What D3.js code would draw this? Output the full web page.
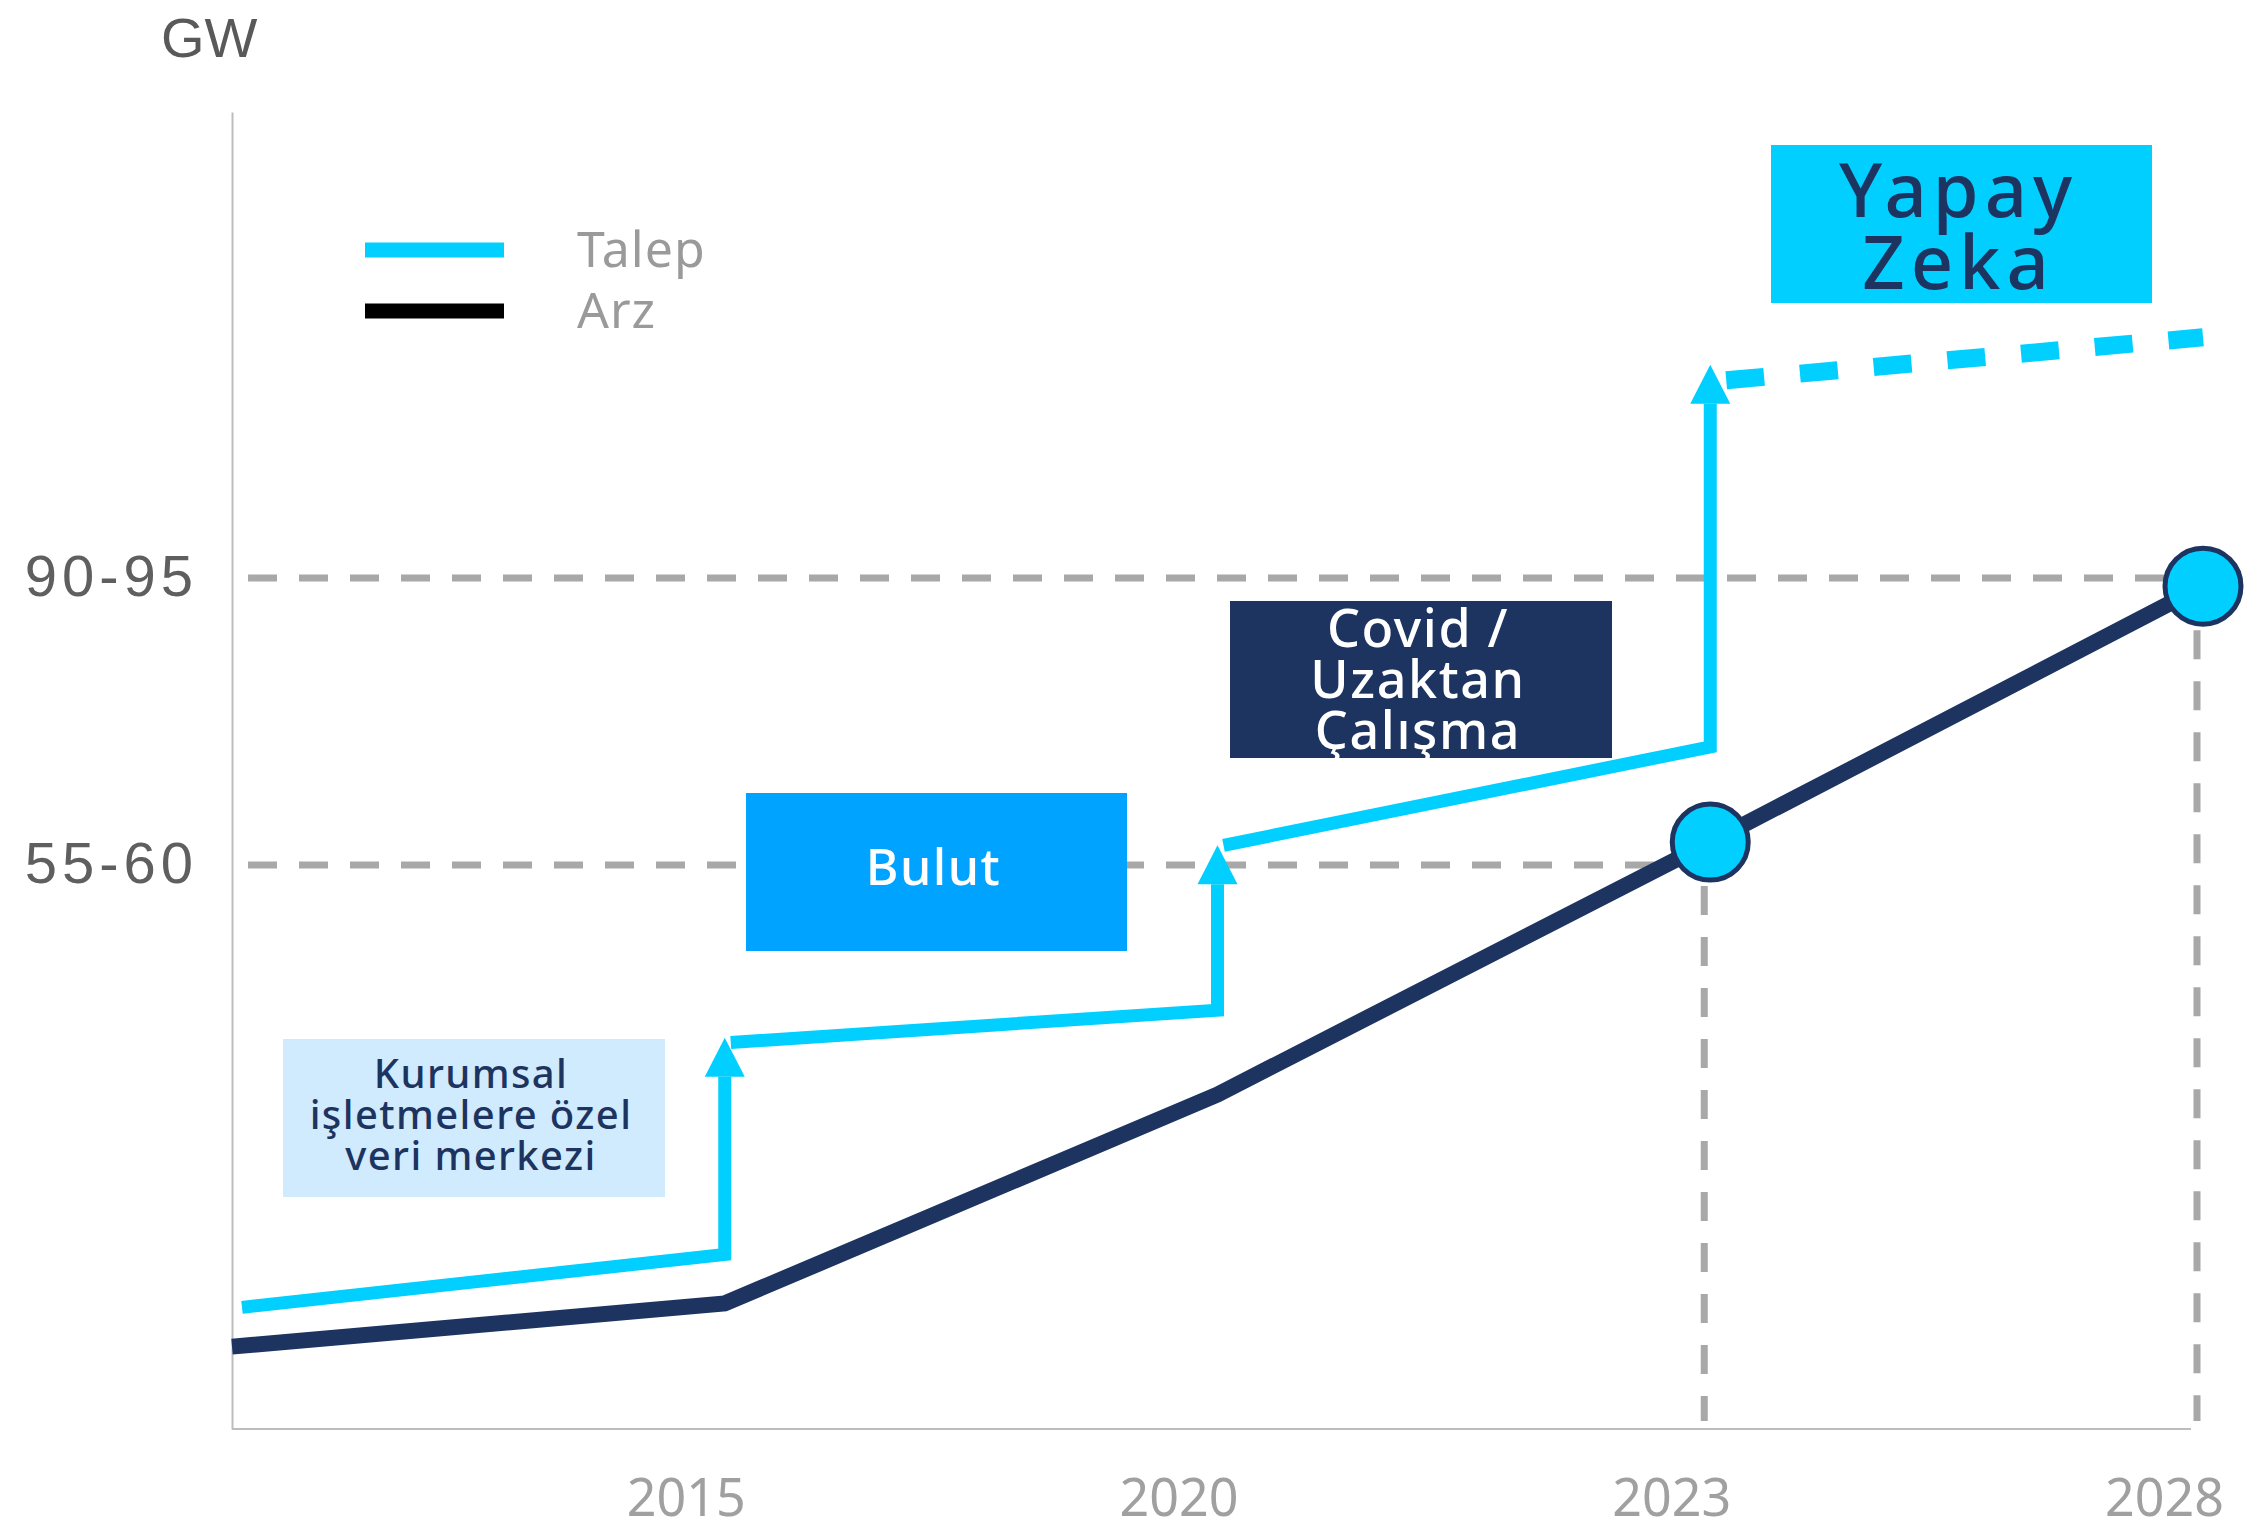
<!DOCTYPE html>
<html lang="tr">
<head>
<meta charset="utf-8">
<title>Veri merkezi talep ve arz</title>
<script src="https://cdn.jsdelivr.net/npm/d3@7"></script>
<style>
  html, body { margin: 0; padding: 0; background: #ffffff; }
  svg { display: block; }
</style>
</head>
<body>
<script>
// ---- data -------------------------------------------------------------
// x categories (the first one is the unlabeled starting point)
const periods = ["2010", "2015", "2020", "2023", "2028"];
const xTickLabels = ["2015", "2020", "2023", "2028"];

// y reference values (GW) and their labels
const yTickValues = [57.5, 92.5];
const yTickLabels = ["55-60", "90-95"];
const yTickPeriods = ["2023", "2028"];   // period each reference line runs to

// Arz (supply), GW per period
const arzValues = [8.4, 12.8, 34.1, 60.3, 91.5];

// Talep (demand): value at the start and at the end of each period span
const talepStart = [12.4, 39.4, 59.9, 116.9];
const talepEnd   = [17.8, 42.7, 71.9, 122.2];
const talepForecast = [false, false, false, true];
// level reached by the step-up arrow at 2015, 2020 and 2023
const stepTop = [39.9, 59.9, 118.8];

// demand drivers
const driverLabels = [
  ["Kurumsal", "işletmelere özel", "veri merkezi"],
  ["Bulut"],
  ["Covid /", "Uzaktan", "Çalışma"],
  ["Yapay", "Zeka"]
];

const legendLabels = ["Talep", "Arz"];

// ---- layout & style ---------------------------------------------------
const W = 2244, H = 1530;
const X0 = 232, X1 = 2203, YBASE = 1429, YTOP = 112;

const C = {
  talep: "#00CFFF",
  arz: "#1D3461",
  grid: "#A8A8A8",
  axis: "#BDBDBD",
  tick: "#5F5F5F",
  year: "#A0A0A0",
  legendText: "#9A9A9A"
};

const driverBoxes = [
  { x: 283,  y: 1039, w: 382, h: 158, fill: "#D0EBFD", color: "#1D3461", size: 40, lh: 41, first: 49, ls: 1.4 },
  { x: 746,  y: 793,  w: 381, h: 158, fill: "#00A3FF", color: "#FFFFFF", size: 50, lh: 50, first: 92, ls: 1.5 },
  { x: 1230, y: 601,  w: 382, h: 157, fill: "#1D3461", color: "#FFFFFF", size: 52, lh: 51, first: 46, ls: 1.6 },
  { x: 1771, y: 145,  w: 381, h: 158, fill: "#00CFFF", color: "#1D3461", size: 74, lh: 72, first: 72, ls: 6 }
];

const svg = d3.select("body").append("svg")
  .attr("width", W).attr("height", H)
  .attr("viewBox", `0 0 ${W} ${H}`);

// ---- scales -------------------------------------------------------------
const x = d3.scalePoint().domain(periods).range([X0, X1]).padding(0);
const y = d3.scaleLinear()
  .domain([0, yTickValues[0], yTickValues[1], 150])
  .range([YBASE, 865, 578, YTOP]);

const DOT_R = 38;

// ---- reference lines -----------------------------------------------------
const grid = svg.append("g")
  .attr("stroke", C.grid)
  .attr("stroke-width", 7)
  .attr("stroke-dasharray", "29 22")
  .attr("fill", "none");

yTickValues.forEach((v, i) => {
  const px = x(yTickPeriods[i]);
  grid.append("line")
    .attr("x1", 248).attr("x2", px - DOT_R)
    .attr("y1", y(v)).attr("y2", y(v));
});

yTickPeriods.forEach(p => {
  const i = periods.indexOf(p);
  grid.append("line")
    .attr("x1", x(p) - 6).attr("x2", x(p) - 6)
    .attr("y1", y(arzValues[i]) + DOT_R + 6).attr("y2", YBASE - 8);
});

// ---- axes ----------------------------------------------------------------
const yAxis = svg.append("g")
  .attr("transform", `translate(${X0},0)`)
  .call(d3.axisLeft(y)
    .tickValues(yTickValues)
    .tickFormat((d, i) => yTickLabels[i])
    .tickSize(0)
    .tickPadding(34));
yAxis.select(".domain").attr("stroke", C.axis).attr("stroke-width", 2);
yAxis.selectAll("text")
  .attr("fill", C.tick)
  .attr("dy", "0.3em")
  .style("font-family", "'Liberation Sans', Arial, sans-serif")
  .style("font-size", "58px")
  .style("letter-spacing", "5px");

const xAxis = svg.append("g")
  .attr("transform", `translate(0,${YBASE})`)
  .call(d3.axisBottom(x)
    .tickValues(xTickLabels)
    .tickSize(0)
    .tickPadding(50));
xAxis.select(".domain")
  .attr("stroke", C.axis).attr("stroke-width", 2)
  .attr("d", `M${X0},0H${X1 - 12}`);
xAxis.selectAll("text")
  .attr("fill", C.year)
  .attr("dx", -39)
  .style("font-family", "'Noto Sans', sans-serif")
  .style("font-size", "52px");

// unit label
svg.append("text")
  .attr("x", 161).attr("y", 57)
  .attr("fill", "#595959")
  .style("font-family", "'Liberation Sans', Arial, sans-serif")
  .style("font-size", "56px")
  .text("GW");

// ---- driver boxes ------------------------------------------------------------
const boxes = svg.append("g");
driverLabels.forEach((lines, i) => {
  const b = driverBoxes[i];
  boxes.append("rect")
    .attr("x", b.x).attr("y", b.y)
    .attr("width", b.w).attr("height", b.h)
    .attr("fill", b.fill);
  const t = boxes.append("text")
    .attr("text-anchor", "middle")
    .attr("fill", b.color)
    .style("font-family", "'Noto Sans', sans-serif")
    .style("font-weight", 500)
    .style("font-size", b.size + "px")
    .style("letter-spacing", b.ls + "px");
  lines.forEach((ln, j) => {
    t.append("tspan")
      .attr("x", b.x + b.w / 2 - 3)
      .attr("y", b.y + b.first + j * b.lh)
      .text(ln);
  });
});

// ---- supply line -------------------------------------------------------------
const line = d3.line().x(d => d[0]).y(d => d[1]);

svg.append("path")
  .attr("d", line(periods.map((p, i) => [x(p), y(arzValues[i])])))
  .attr("fill", "none")
  .attr("stroke", C.arz)
  .attr("stroke-width", 16)
  .attr("stroke-linejoin", "miter");

// ---- demand line with step-up arrows -----------------------------------------
const ARROW_H = 39, ARROW_W = 20;
const dem = svg.append("g").attr("fill", "none").attr("stroke", C.talep);

talepStart.forEach((s, i) => {
  const xa = x(periods[i]);
  const xb = x(periods[i + 1]);
  const startX = i === 0 ? xa + 10 : xa + (talepForecast[i] ? 16 : 6);
  const pts = [[startX, y(s)], [xb, y(talepEnd[i])]];
  if (i < stepTop.length) {
    // climb to the next period's level
    pts.push([xb, y(stepTop[i]) + ARROW_H]);
  }
  const seg = dem.append("path")
    .attr("d", line(pts))
    .attr("stroke-linejoin", "miter")
    .attr("stroke-width", talepForecast[i] ? 18 : 13);
  if (talepForecast[i]) seg.attr("stroke-dasharray", "38 36");

  if (i < stepTop.length) {
    const tipY = y(stepTop[i]);
    svg.append("path")
      .attr("d", `M${xb},${tipY}L${xb + ARROW_W},${tipY + ARROW_H}L${xb - ARROW_W},${tipY + ARROW_H}Z`)
      .attr("fill", C.talep);
  }
});

// ---- milestone dots --------------------------------------------------------------
svg.append("g")
  .selectAll("circle")
  .data(yTickPeriods)
  .join("circle")
  .attr("cx", p => x(p))
  .attr("cy", p => y(arzValues[periods.indexOf(p)]))
  .attr("r", DOT_R)
  .attr("fill", C.talep)
  .attr("stroke", C.arz)
  .attr("stroke-width", 5);

// ---- legend --------------------------------------------------------------------
const legend = svg.append("g");
const legendColors = [C.talep, "#000000"];
legendLabels.forEach((lab, i) => {
  const ly = 250 + i * 61;
  legend.append("line")
    .attr("x1", 365).attr("x2", 504)
    .attr("y1", ly).attr("y2", ly)
    .attr("stroke", legendColors[i])
    .attr("stroke-width", 15);
  legend.append("text")
    .attr("x", 577).attr("y", ly + 17)
    .attr("fill", C.legendText)
    .style("font-family", "'Noto Sans', sans-serif")
    .style("font-size", "50px")
    .style("letter-spacing", "1px")
    .text(lab);
});
</script>
</body>
</html>
